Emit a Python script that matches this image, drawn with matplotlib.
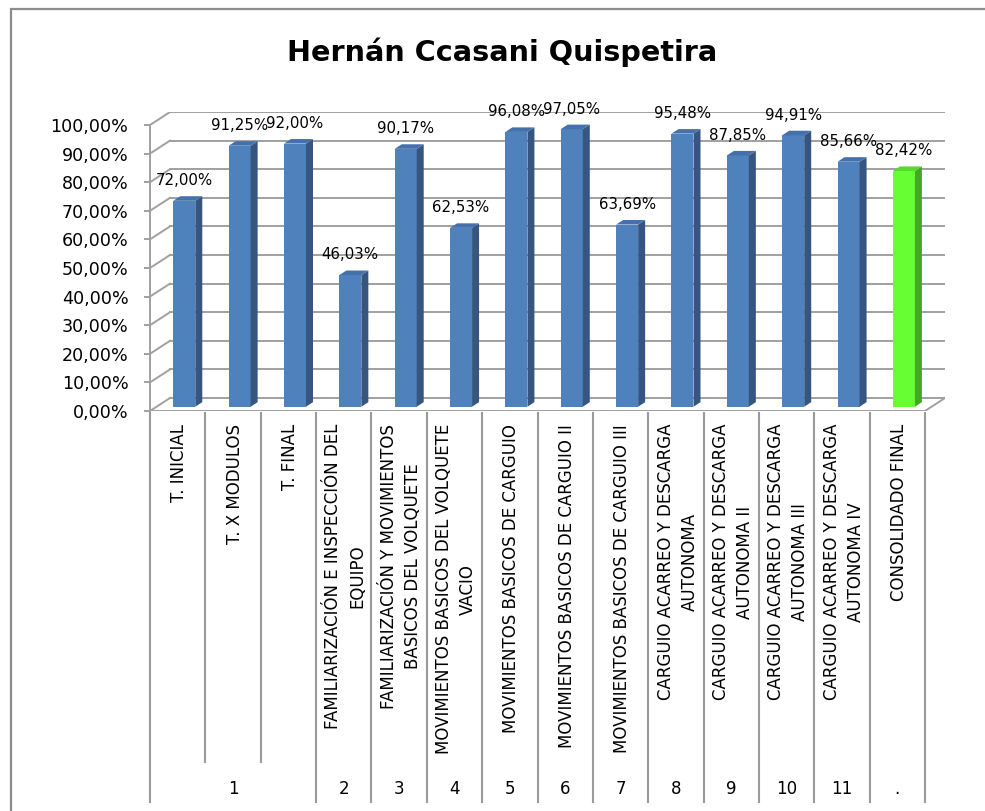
import matplotlib
matplotlib.use("Agg")
import matplotlib.pyplot as plt
from matplotlib.patches import Polygon, Rectangle
from matplotlib.lines import Line2D
import matplotlib.transforms as mtransforms

# ---------------- data ----------------
title = "Hernán Ccasani Quispetira"
categories = [
    "T. INICIAL",
    "T. X MODULOS",
    "T. FINAL",
    "FAMILIARIZACIÓN E INSPECCIÓN DEL\nEQUIPO",
    "FAMILIARIZACIÓN Y MOVIMIENTOS\nBASICOS DEL VOLQUETE",
    "MOVIMIENTOS BASICOS DEL VOLQUETE\nVACIO",
    "MOVIMIENTOS BASICOS DE CARGUIO",
    "MOVIMIENTOS BASICOS DE CARGUIO II",
    "MOVIMIENTOS BASICOS DE CARGUIO III",
    "CARGUIO ACARREO Y DESCARGA\nAUTONOMA",
    "CARGUIO ACARREO Y DESCARGA\nAUTONOMA II",
    "CARGUIO ACARREO Y DESCARGA\nAUTONOMA III",
    "CARGUIO ACARREO Y DESCARGA\nAUTONOMA IV",
    "CONSOLIDADO FINAL",
]
groups = ["1", "1", "1", "2", "3", "4", "5", "6", "7", "8", "9", "10", "11", "."]
values = [72.00, 91.25, 92.00, 46.03, 90.17, 62.53, 96.08, 97.05, 63.69,
          95.48, 87.85, 94.91, 85.66, 82.42]
highlight = [False] * 13 + [True]
yticks = [0, 10, 20, 30, 40, 50, 60, 70, 80, 90, 100]

# ---------------- styling ----------------
W, H = 985, 811
fig = plt.figure(figsize=(W / 100, H / 100), dpi=100)
fig.patch.set_facecolor("white")

n = len(categories)
px_cat = (925 - 150) / n          # pixels per category
DX = 20 / px_cat                  # depth offset (x, data units)
DY = 13 / 286                     # depth offset (y, fraction)
f0, f1 = 0.33, 0.68               # bar front/back depth fractions
bw = 22 / px_cat                  # bar width

left_px, right_px = 150, 150 + (n + DX) * px_cat
bot_px, top_px = 411, 411 - (1 + DY) * 286
ax = fig.add_axes([left_px / W, 1 - bot_px / H,
                   (right_px - left_px) / W, (bot_px - top_px) / H])
ax.set_xlim(-0.5, n - 0.5 + DX)
ax.set_ylim(0, 1 + DY)
ax.patch.set_visible(False)
for s in ["top", "right", "bottom"]:
    ax.spines[s].set_visible(False)

grid_c = "#a0a0a0"
glw = 1.4

# y axis (front)
ax.spines["left"].set_position(("data", -0.5))
ax.spines["left"].set_bounds(0, 1)
ax.spines["left"].set_color(grid_c)
ax.spines["left"].set_linewidth(glw)
ax.set_yticks([t / 100 for t in yticks])
ax.set_yticklabels([f"{t:.2f}%".replace(".", ",") for t in yticks])
ax.tick_params(axis="y", length=4, width=glw, color=grid_c, pad=11.5,
               labelsize=12.6, labelcolor="black")
ax.set_xticks([])

# walls / grid
for t in yticks:
    v = t / 100
    ax.add_line(Line2D([-0.5 + DX, n - 0.5 + DX], [v + DY, v + DY],
                       color=grid_c, lw=glw, zorder=1))
    ax.add_line(Line2D([-0.5, -0.5 + DX], [v, v + DY],
                       color=grid_c, lw=glw, zorder=1))
# floor front edge and right edge
ax.add_line(Line2D([-0.5, n - 0.5], [0, 0], color=grid_c, lw=glw, zorder=1))
ax.add_line(Line2D([n - 0.5, n - 0.5 + DX], [0, DY], color=grid_c, lw=glw, zorder=1))

# bars
for i, (v, hl) in enumerate(zip(values, highlight)):
    val = v / 100
    if hl:
        cf, cs, ct = "#66FF33", "#45A823", "#58D92C"
    else:
        cf, cs, ct = "#4F81BD", "#36557F", "#4471AA"
    xc = i + f0 * DX
    ax.bar(xc, val, width=bw, bottom=f0 * DY, color=cf, edgecolor="none", zorder=3)
    xl, xr = xc - bw / 2, xc + bw / 2
    ddx, ddy = (f1 - f0) * DX, (f1 - f0) * DY
    y0, y1 = f0 * DY, val + f0 * DY
    ax.add_patch(Polygon([(xr, y0), (xr + ddx, y0 + ddy), (xr + ddx, y1 + ddy), (xr, y1)],
                         closed=True, facecolor=cs, edgecolor="none", zorder=3))
    ax.add_patch(Polygon([(xl, y1), (xr, y1), (xr + ddx, y1 + ddy), (xl + ddx, y1 + ddy)],
                         closed=True, facecolor=ct, edgecolor="none", zorder=3))
    ax.annotate(f"{v:.2f}%".replace(".", ","), xy=(xc, y1),
                xytext=(0, 14.5), textcoords="offset points", ha="center", va="center",
                fontsize=10.8, color="black", zorder=5, annotation_clip=False)

# lower category box
tr = mtransforms.blended_transform_factory(ax.transData, fig.transFigure)
def fy(py):
    return 1 - py / H

line_c = "#9a9a9a"
for k in range(n + 1):
    xb = k - 0.5
    internal = 0 < k < n and groups[k - 1] == groups[k]
    ybot = 762 if internal else 802
    fig.add_artist(Line2D([xb, xb], [fy(413), fy(ybot)], transform=tr,
                          color=line_c, lw=1.5))

for i, lab in enumerate(categories):
    fig.text(i + 0.03, fy(424), lab, transform=tr, rotation=90, ha="center", va="top",
             multialignment="center", fontsize=12, linespacing=1.42, color="black")

# group labels
seen = []
for g in groups:
    if g not in seen:
        seen.append(g)
for g in seen:
    idx = [i for i, gg in enumerate(groups) if gg == g]
    xm = sum(idx) / len(idx)
    fig.text(xm, fy(789), g, transform=tr, ha="center", va="center",
             fontsize=12, color="black")

# title
fig.text(502 / W, fy(52), title, ha="center", va="center", fontsize=20.6,
         fontweight="bold", color="black")

# chart frame (cropped at right and bottom)
fig.add_artist(Rectangle((11 / W, -0.05), 1.2, 1.05 - 9 / H, transform=fig.transFigure,
                         fill=False, edgecolor="#8c8c8c", lw=1.6))

fig.savefig("out.png", dpi=100)
